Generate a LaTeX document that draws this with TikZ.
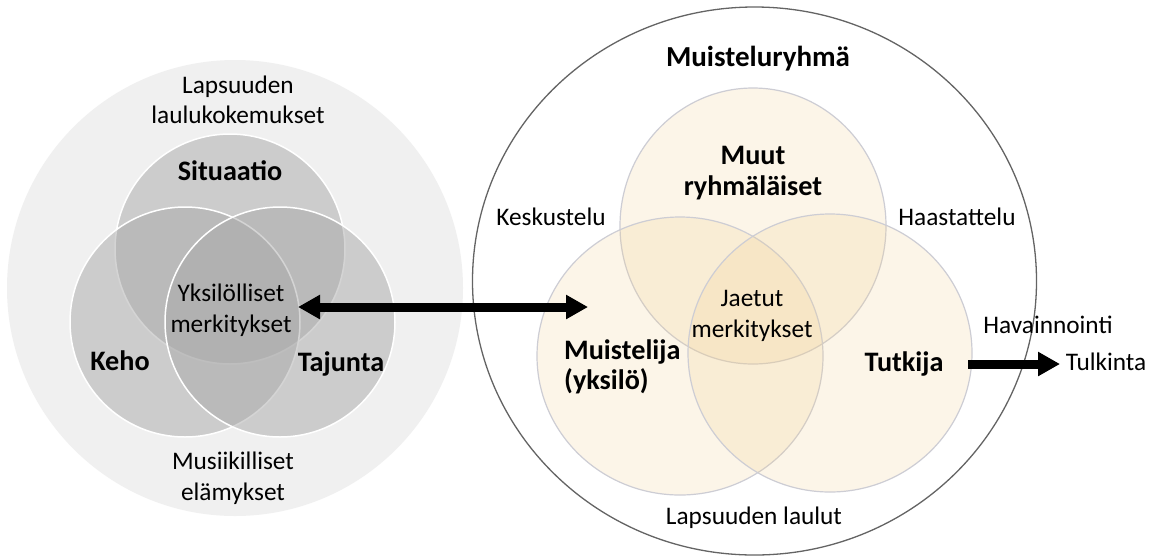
\documentclass[tikz,border=0pt]{standalone}
\usepackage{fontspec}
\setmainfont{Carlito}
\usetikzlibrary{arrows.meta,shapes.geometric}
\definecolor{lgbg}{RGB}{240,240,240}
\definecolor{gfill}{RGB}{170,170,170}
\definecolor{yfill}{RGB}{240,205,140}
\definecolor{yedge}{RGB}{205,205,212}
\definecolor{outedge}{RGB}{100,100,100}
\begin{document}
\begin{tikzpicture}[x=1pt,y=-1pt,
  reg/.style={font=\fontsize{25.3}{30.5}\selectfont, align=center, inner sep=0pt},
  bld/.style={font=\fontsize{28.2}{30.5}\selectfont\bfseries, align=center, inner sep=0pt},
  gcirc/.style={circle, minimum size=230pt, inner sep=0pt, fill=gfill, fill opacity=0.5, draw=white, line width=1.5pt},
  ycirc/.style={ellipse, inner sep=0pt, fill=yfill, fill opacity=0.2, draw=yedge, line width=1.2pt},
  bigarrow/.style={line width=9pt, -{Triangle[length=22pt,width=23pt]}},
  dblarrow/.style={line width=9pt, {Triangle[length=22pt,width=23pt]}-{Triangle[length=22pt,width=23pt]}}
]
\fill[white] (0,0) rectangle (1153,558);
\useasboundingbox (0,0) rectangle (1153,558);

% left group
\node[circle, minimum size=456pt, inner sep=0pt, fill=lgbg] (louter) at (235,288) {};
\node[gcirc] (sit) at (230,249) {};
\node[gcirc] (keh) at (185,322) {};
\node[gcirc] (taj) at (280,322) {};

\node[reg] (lap) at (238,100) {Lapsuuden\\laulukokemukset};
\node[bld] (sitt) at (230,171) {Situaatio};
\node[reg] (yks) at (231,310) {Yksilölliset\\merkitykset};
\node[bld] (keht) at (120,361) {Keho};
\node[bld] (tajt) at (341,364) {Tajunta};
\node[reg] (mus) at (233,478) {Musiikilliset\\elämykset};

% right group
\node[ellipse, minimum width=564pt, minimum height=548pt, inner sep=0pt, fill=white, draw=outedge, line width=1.3pt] (router) at (754.5,281) {};
\node[ycirc, minimum width=266pt, minimum height=276pt] (muut) at (753,226) {};
\node[ycirc, minimum width=286pt, minimum height=278pt] (mui) at (680,356) {};
\node[ycirc, minimum width=284pt, minimum height=278pt] (tut) at (830,353) {};

\node[bld, font=\fontsize{29}{30.5}\selectfont\bfseries] (ryhma) at (758,59) {Muisteluryhmä};
\node[bld] (muutt) at (753,173) {Muut\\ryhmäläiset};
\node[reg] (kesk) at (551,217) {Keskustelu};
\node[reg] (haas) at (957,217) {Haastattelu};
\node[reg] (jaet) at (752,316) {Jaetut\\merkitykset};
\node[bld, align=left, anchor=west] (muit) at (564,367) {Muistelija\\(yksilö)};
\node[reg] (laul) at (754,518) {Lapsuuden laulut};
\node[reg] (hav) at (1048,325) {Havainnointi};
\node[bld] (tutt) at (904,364) {Tutkija};
\node[reg] (tulk) at (1106,362) {Tulkinta};

% arrows
\coordinate (dL) at (298,307);
\coordinate (dR) at (588,307);
\draw[dblarrow] (dL) -- (dR);
\coordinate (tA) at (968,364);
\coordinate (tB) at (1060,364);
\draw[bigarrow] (tA) -- (tB);
\end{tikzpicture}
\end{document}
